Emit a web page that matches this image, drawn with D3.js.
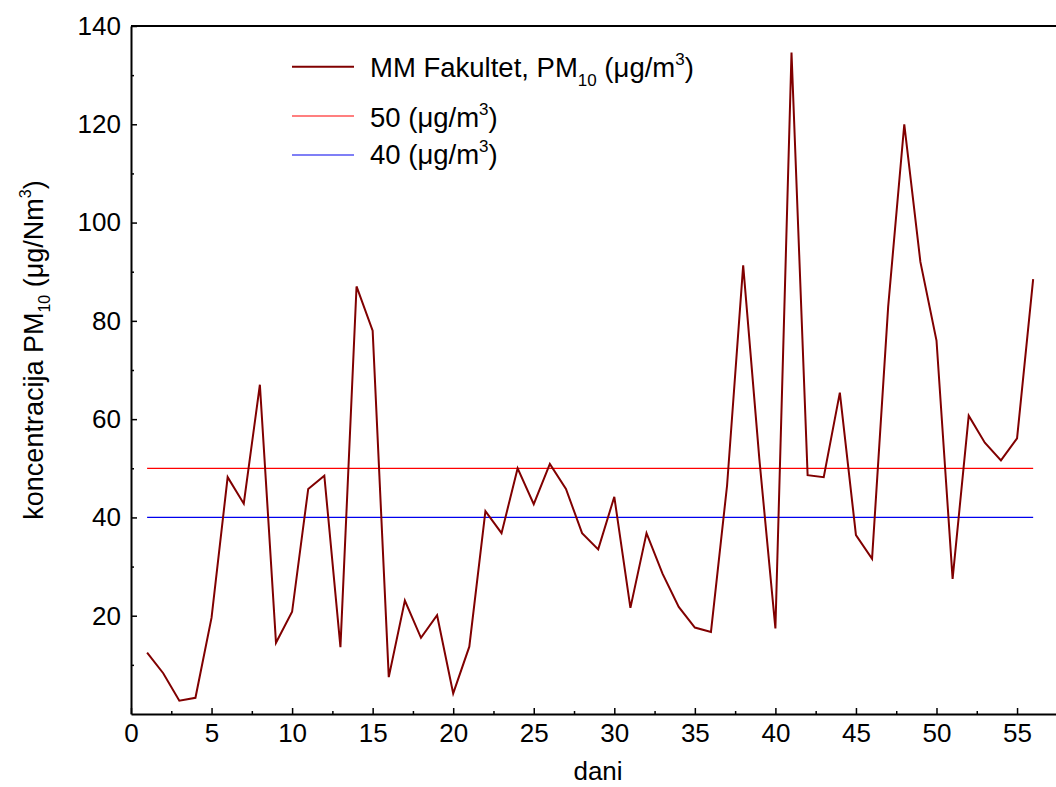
<!DOCTYPE html>
<html>
<head>
<meta charset="utf-8">
<script src="https://cdn.jsdelivr.net/npm/d3@7"></script>
<style>
  html, body { margin: 0; padding: 0; background: #fff; }
  svg { display: block; }
  text { font-family: "Liberation Sans", Arial, sans-serif; fill: #000; }
</style>
</head>
<body>
<svg id="chart" width="1056" height="787"></svg>
<script>
// ---- data ----
const days = d3.range(1, 57);
const pm10 = [12.5, 8.3, 2.7, 3.3, 19.6, 48.2, 42.8, 67.0, 14.5, 20.8,
              45.8, 48.5, 13.6, 87.0, 78.0, 7.5, 23.1, 15.5, 20.1, 4.2,
              13.7, 41.3, 36.8, 50.0, 42.7, 50.9, 45.8, 36.8, 33.5, 44.2,
              21.6, 36.8, 28.5, 21.8, 17.6, 16.7, 46.5, 91.3, 52.0, 17.4,
              134.6, 48.6, 48.2, 65.4, 36.4, 31.6, 82.9, 120.0, 92.0, 76.0,
              27.5, 60.7, 55.2, 51.6, 56.1, 88.5];
const limits = [50, 40];
const limitColors = ["#ff0000", "#0000ee"];
const xTicks = [0, 5, 10, 15, 20, 25, 30, 35, 40, 45, 50, 55];
const xMinor = d3.range(2.5, 57, 5);
const yTicks = [20, 40, 60, 80, 100, 120, 140];
const yMinor = [10, 30, 50, 70, 90, 110, 130];

// ---- layout ----
const svg = d3.select("#chart");
const plotLeft = 131, plotBottom = 714, plotTop = 26;
const x = d3.scaleLinear().domain([0, 57.5]).range([plotLeft, plotLeft + 57.5 * 16.11]);
const y = d3.scaleLinear().domain([0, 140]).range([plotBottom, plotTop]);

const fontSize = 26;

// top frame line
svg.append("line")
  .attr("x1", plotLeft).attr("x2", 1056)
  .attr("y1", y(140)).attr("y2", y(140))
  .attr("stroke", "#000").attr("stroke-width", 2);

// x axis
const gx = svg.append("g").attr("transform", `translate(0,${plotBottom})`);
gx.call(d3.axisBottom(x).tickValues(xTicks).tickFormat(d3.format("d"))
  .tickSizeInner(-6).tickSizeOuter(0).tickPadding(10));
gx.append("g").call(d3.axisBottom(x).tickValues(xMinor).tickFormat("")
  .tickSizeInner(-3).tickSizeOuter(0))
  .select(".domain").remove();

// y axis
const gy = svg.append("g").attr("transform", `translate(${plotLeft},0)`);
gy.call(d3.axisLeft(y).tickValues(yTicks).tickFormat(d3.format("d"))
  .tickSizeInner(-6).tickSizeOuter(0).tickPadding(10));
gy.append("g").call(d3.axisLeft(y).tickValues(yMinor).tickFormat("")
  .tickSizeInner(-3).tickSizeOuter(0))
  .select(".domain").remove();

svg.selectAll(".domain").attr("stroke", "#000").attr("stroke-width", 2);
svg.selectAll(".tick line").attr("stroke", "#000").attr("stroke-width", 1.5);
svg.selectAll(".tick text").attr("font-size", fontSize)
  .attr("font-family", "Liberation Sans, Arial, sans-serif").attr("fill", "#000");

// limit lines
limits.forEach((v, i) => {
  svg.append("line")
    .attr("x1", x(1)).attr("x2", x(56))
    .attr("y1", y(v)).attr("y2", y(v))
    .attr("stroke", limitColors[i]).attr("stroke-width", 1.2);
});

// series line
const line = d3.line().x((d, i) => x(days[i])).y(d => y(d));
svg.append("path").datum(pm10)
  .attr("d", line)
  .attr("fill", "none")
  .attr("stroke", "#800000")
  .attr("stroke-width", 2)
  .attr("stroke-linejoin", "miter");

// axis titles
svg.append("text")
  .attr("x", 598).attr("y", 780)
  .attr("text-anchor", "middle").attr("font-size", 26)
  .text("dani");

const yt = svg.append("text")
  .attr("transform", "translate(43,350) rotate(-90)")
  .attr("text-anchor", "middle").attr("font-size", 27);
yt.append("tspan").text("koncentracija PM");
yt.append("tspan").attr("font-size", 16).attr("dy", 7).text("10");
yt.append("tspan").attr("dy", -7).text(" (\u03bcg/Nm");
yt.append("tspan").attr("font-size", 16).attr("dy", -12).text("3");
yt.append("tspan").attr("dy", 12).text(")");

// legend
const legendX1 = 292, legendX2 = 354, legendTX = 370;
const legRows = [
  { color: "#800000", ly: 66.7, ty: 76.7, width: 2, parts: [["MM Fakultet, PM", 0, null], ["10", 9, "s"], [" (\u03bcg/m", -9, null], ["3", -12, "s"], [")", 12, null]] },
  { color: "#ff0000", ly: 116, ty: 127, width: 1.2, parts: [["50 (\u03bcg/m", 0, null], ["3", -12, "s"], [")", 12, null]] },
  { color: "#0000ee", ly: 155, ty: 164, width: 1.2, parts: [["40 (\u03bcg/m", 0, null], ["3", -12, "s"], [")", 12, null]] }
];
legRows.forEach(r => {
  svg.append("line")
    .attr("x1", legendX1).attr("x2", legendX2)
    .attr("y1", r.ly).attr("y2", r.ly)
    .attr("stroke", r.color).attr("stroke-width", r.width);
  const t = svg.append("text").attr("x", legendTX).attr("y", r.ty)
    .attr("font-size", 27.5);
  r.parts.forEach(p => {
    const ts = t.append("tspan").attr("dy", p[1]).text(p[0]);
    if (p[2] === "s") ts.attr("font-size", 17);
  });
});
</script>
</body>
</html>
